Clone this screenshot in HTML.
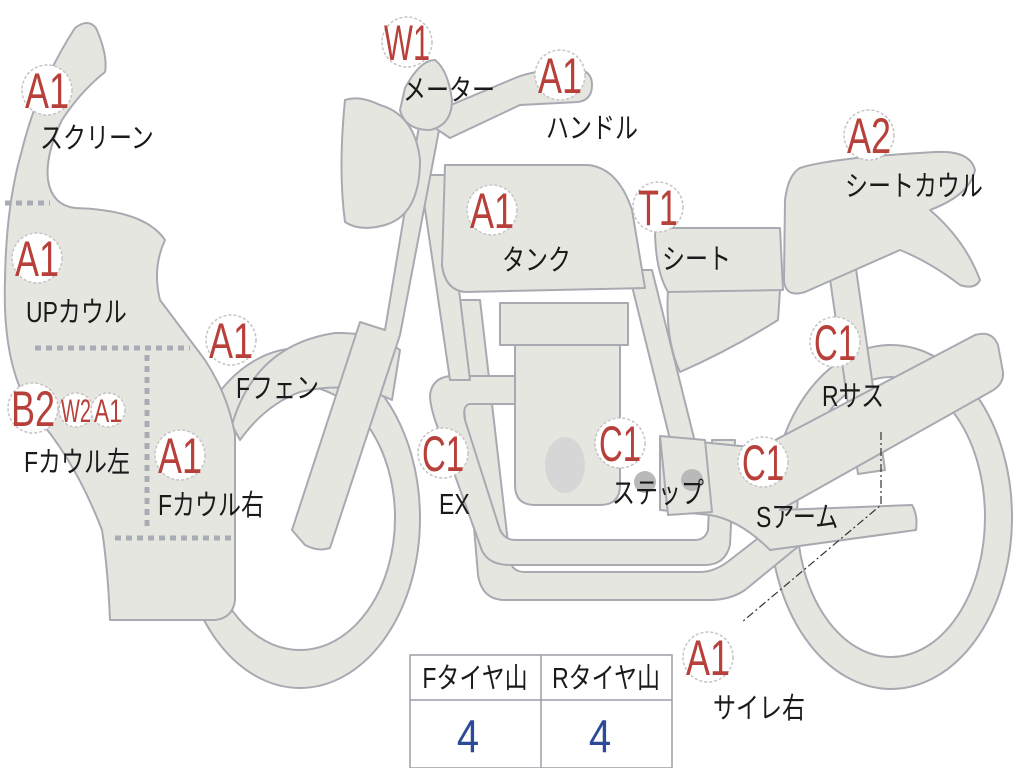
<!DOCTYPE html>
<html><head><meta charset="utf-8"><style>
html,body{margin:0;padding:0;background:#fff;}
svg{display:block}
.s{fill:#e6e6e1;stroke:#a7aab1;stroke-width:2;stroke-linejoin:round}
.b{fill:#fff;stroke:#c4c4c4;stroke-width:1.5;stroke-dasharray:3 2}
.bt{font-family:"Liberation Sans",sans-serif;fill:#b8403a;font-size:50px;text-anchor:middle}
.lb{font-family:"Liberation Sans","Noto Sans CJK JP",sans-serif;fill:#1a1a1a;font-size:23px}
.dot{stroke:#a8acb4;stroke-width:5;stroke-dasharray:6 5;fill:none}
</style></head><body>
<svg width="1024" height="768" viewBox="0 0 1024 768" xmlns="http://www.w3.org/2000/svg">
<path class="s" fill-rule="evenodd" d="M770,517a121,172 0 1,0 242,0a121,172 0 1,0 -242,0Z M797,517a94,140 0 1,0 188,0a94,140 0 1,0 -188,0Z"/>
<path class="s" fill-rule="evenodd" d="M180,518a120,170 0 1,0 240,0a120,170 0 1,0 -240,0Z M205,518a95,132 0 1,0 190,0a95,132 0 1,0 -190,0Z"/>
<path class="s" d="M232,425 Q255,345 335,333 Q375,332 400,350 L392,400 Q350,380 300,392 Q265,405 240,440 Z"/>
<path class="s" d="M668,290 L780,290 L778,320 Q730,350 680,372 Q665,340 668,290Z"/>
<path class="s" d="M828,265 L855,262 L885,470 L858,474Z"/>
<path class="s" d="M455,300 L480,300 L510,560 Q512,572 525,572 L700,572 Q715,572 730,560 L775,525 L800,545 L745,590 Q730,600 710,600 L505,600 Q482,600 478,575 Z"/>
<path class="s" d="M430,395 Q432,378 450,376 L520,376 L520,404 L470,404 Q462,405 465,420 L500,530 Q505,540 515,540 L695,540 Q705,540 708,530 L712,440 L735,440 L730,545 Q725,565 705,565 L510,565 Q485,565 480,545 L435,420 Q430,405 430,395Z"/>
<path class="s" d="M420,175 L445,175 L470,380 L450,380Z"/>
<path class="s" d="M628,270 L652,270 L712,510 L688,512Z"/>
<rect class="s" x="500" y="303" width="128" height="42"/>
<path class="s" d="M515,345 L620,345 L620,485 Q620,505 600,505 L535,505 Q515,505 515,485Z"/>
<ellipse cx="565" cy="465" rx="20" ry="28" fill="#d6d6d6"/>
<path class="s" d="M660,438 L760,448 L975,335 Q992,330 998,345 L1003,372 Q1004,385 990,392 L780,510 L912,505 Q918,515 916,530 L770,550 Q740,520 710,515 L660,510Z"/>
<path class="s" d="M660,436 L705,440 L712,512 L668,515Z"/>
<circle cx="645" cy="482" r="11" fill="#b9b9b9"/><circle cx="692" cy="480" r="11" fill="#b9b9b9"/>
<path class="s" d="M445,165 L588,165 Q618,168 632,210 L645,288 L465,292 Q445,290 442,265Z"/>
<path class="s" d="M655,228 L780,228 L783,290 L668,292 Q655,270 655,228Z"/>
<path class="s" d="M800,168 Q830,158 935,152 Q970,150 975,170 Q970,195 930,210 Q965,240 980,280 Q975,290 960,285 Q930,262 900,250 L805,292 Q785,298 784,280 L785,200 Q788,175 800,168Z"/>
<path class="s" d="M292,530 L360,322 L385,330 L420,120 L440,125 L400,335 L330,548 Q318,552 305,545Z"/>
<path class="s" d="M345,100 Q360,95 380,105 Q415,115 420,160 Q420,215 385,225 Q360,232 345,222 Q338,170 345,100Z"/>
<path class="s" d="M420,118 L515,78 Q540,68 580,70 Q592,72 592,85 Q592,100 578,102 L520,105 L450,138Z"/>
<path class="s" d="M405,88 Q420,60 435,60 Q448,70 452,100 Q452,125 430,130 Q405,130 400,110Z"/>
<path class="s" d="M75,28 Q88,18 96,28 Q108,55 105,72 Q80,92 62,120 Q45,155 48,180 Q52,205 75,208 Q145,210 165,240 Q152,268 160,300 L205,360 Q228,395 235,435 L235,600 Q233,618 215,620 L110,620 Q108,570 102,530 Q75,460 35,415 Q2,370 5,280 Q6,205 22,150 Q38,85 75,28Z"/>
<line class="dot" x1="5" y1="203" x2="50" y2="203"/>
<line class="dot" x1="35" y1="348" x2="190" y2="348"/>
<line class="dot" x1="147" y1="355" x2="147" y2="530"/>
<line class="dot" x1="115" y1="538" x2="235" y2="538"/>
<path d="M881,432 L881,505 L742,622" fill="none" stroke="#333" stroke-width="1.2" stroke-dasharray="8 3 2 3"/>
<g>
<circle class="b" cx="47" cy="90" r="25"/><text class="bt" x="47" y="108" textLength="44" lengthAdjust="spacingAndGlyphs">A1</text>
<circle class="b" cx="37" cy="258" r="25"/><text class="bt" x="37" y="276" textLength="44" lengthAdjust="spacingAndGlyphs">A1</text>
<circle class="b" cx="33" cy="408" r="25"/><text class="bt" x="33" y="426" textLength="44" lengthAdjust="spacingAndGlyphs">B2</text>
<circle class="b" cx="76" cy="410" r="17"/><text class="bt" style="font-size:32px" x="76" y="422" textLength="30" lengthAdjust="spacingAndGlyphs">W2</text>
<circle class="b" cx="108" cy="410" r="17"/><text class="bt" style="font-size:32px" x="108" y="422" textLength="28" lengthAdjust="spacingAndGlyphs">A1</text>
<circle class="b" cx="180" cy="455" r="25"/><text class="bt" x="180" y="473" textLength="44" lengthAdjust="spacingAndGlyphs">A1</text>
<circle class="b" cx="231" cy="340" r="25"/><text class="bt" x="231" y="358" textLength="44" lengthAdjust="spacingAndGlyphs">A1</text>
<circle class="b" cx="407" cy="42" r="25"/><text class="bt" x="407" y="60" textLength="46" lengthAdjust="spacingAndGlyphs">W1</text>
<circle class="b" cx="560" cy="75" r="25"/><text class="bt" x="560" y="93" textLength="44" lengthAdjust="spacingAndGlyphs">A1</text>
<circle class="b" cx="869" cy="135" r="25"/><text class="bt" x="869" y="153" textLength="44" lengthAdjust="spacingAndGlyphs">A2</text>
<circle class="b" cx="492" cy="210" r="25"/><text class="bt" x="492" y="228" textLength="44" lengthAdjust="spacingAndGlyphs">A1</text>
<circle class="b" cx="658" cy="207" r="25"/><text class="bt" x="658" y="225" textLength="40" lengthAdjust="spacingAndGlyphs">T1</text>
<circle class="b" cx="835" cy="342" r="25"/><text class="bt" x="835" y="360" textLength="42" lengthAdjust="spacingAndGlyphs">C1</text>
<circle class="b" cx="443" cy="453" r="25"/><text class="bt" x="443" y="471" textLength="42" lengthAdjust="spacingAndGlyphs">C1</text>
<circle class="b" cx="620" cy="443" r="25"/><text class="bt" x="620" y="461" textLength="42" lengthAdjust="spacingAndGlyphs">C1</text>
<circle class="b" cx="763" cy="462" r="25"/><text class="bt" x="763" y="480" textLength="42" lengthAdjust="spacingAndGlyphs">C1</text>
<circle class="b" cx="708" cy="657" r="25"/><text class="bt" x="708" y="675" textLength="44" lengthAdjust="spacingAndGlyphs">A1</text>
</g>
<g class="lb">
<text transform="translate(40,148) scale(1,1.25)">スクリーン</text>
<text transform="translate(26,322) scale(1,1.25)">UPカウル</text>
<text transform="translate(24,472) scale(1,1.25)">Fカウル左</text>
<text transform="translate(158,515) scale(1,1.25)">Fカウル右</text>
<text transform="translate(236,398) scale(1,1.25)">Fフェン</text>
<text transform="translate(403,100) scale(1,1.25)">メーター</text>
<text transform="translate(546,138) scale(1,1.25)">ハンドル</text>
<text transform="translate(845,196) scale(1,1.25)">シートカウル</text>
<text transform="translate(502,270) scale(1,1.25)">タンク</text>
<text transform="translate(662,269) scale(1,1.25)">シート</text>
<text transform="translate(822,406) scale(1,1.25)">Rサス</text>
<text transform="translate(439,514) scale(1,1.25)">EX</text>
<text transform="translate(612,503) scale(1,1.25)">ステップ</text>
<text transform="translate(756,527) scale(1,1.25)">Sアーム</text>
<text transform="translate(713,718) scale(1,1.25)">サイレ右</text>
</g>
<rect x="410" y="655" width="262" height="113" fill="#fff" stroke="#9a9ea6" stroke-width="1.5"/>
<line x1="541" y1="655" x2="541" y2="768" stroke="#9a9ea6" stroke-width="1.5"/>
<line x1="410" y1="700" x2="672" y2="700" stroke="#9a9ea6" stroke-width="1.5"/>
<text class="lb" text-anchor="middle" transform="translate(475,688) scale(1,1.25)">Fタイヤ山</text>
<text class="lb" text-anchor="middle" transform="translate(606,688) scale(1,1.25)">Rタイヤ山</text>
<text text-anchor="middle" font-family="Liberation Sans,sans-serif" font-size="40" fill="#2d4a98" transform="translate(468,752) scale(1,1.15)">4</text>
<text text-anchor="middle" font-family="Liberation Sans,sans-serif" font-size="40" fill="#2d4a98" transform="translate(600,752) scale(1,1.15)">4</text>
</svg>
</body></html>
